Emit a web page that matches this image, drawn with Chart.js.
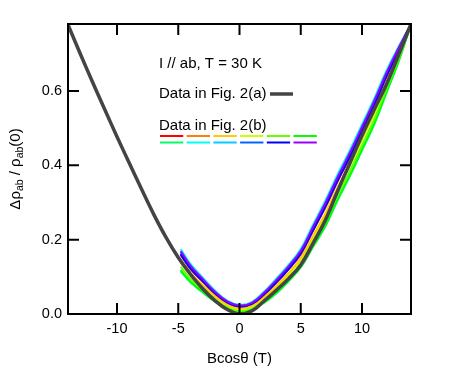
<!DOCTYPE html>
<html>
<head>
<meta charset="utf-8">
<script src="https://cdn.jsdelivr.net/npm/chart.js@4.4.1/dist/chart.umd.min.js"></script>
<style>
  html,body{margin:0;padding:0;background:#fff;}
  canvas{display:block;}
</style>
</head>
<body>
<canvas id="c" width="458" height="374"></canvas>
<script>
// Fig. 2(a) curve (gray)
const grayX = [-14,-13,-12,-11,-10,-9,-8,-7,-6,-5,-4,-3,-2,-1,0,1,2,3,4,5,6,7,8,9,10,11,12,13,14];
const grayY = [.778,.700,.624,.550,.477,.406,.336,.268,.206,.152,.107,.068,.036,.012,0,.008,.035,.064,.095,.132,.19,.252,.330,.405,.48,.55,.618,.698,.78];

// Fig. 2(b) curves (12 colours)
const bX = [-4.8,-4,-3,-2,-1,0,1,2,3,4,5,6,7,8,9,10,11,12,13,14];
const redY    = [.159,.121,.087,.055,.031,.020,.027,.052,.084,.120,.161,.224,.286,.356,.421,.491,.561,.639,.709,.780];
const orangeY = [.162,.124,.089,.056,.032,.021,.028,.053,.086,.122,.164,.227,.289,.359,.424,.494,.564,.642,.711,.780];
const goldY   = [.145,.110,.078,.048,.026,.015,.022,.045,.075,.110,.150,.210,.270,.340,.405,.475,.545,.625,.700,.780];
const ygreenY = [.139,.105,.074,.045,.024,.013,.020,.042,.071,.106,.145,.204,.263,.333,.398,.468,.538,.619,.696,.780];
const limeY   = [.127,.095,.066,.039,.020,.009,.016,.036,.063,.097,.135,.192,.249,.319,.384,.454,.524,.607,.688,.780];
const greenY  = [.118,.087,.060,.034,.017,.006,.013,.031,.057,.090,.127,.183,.238,.308,.373,.443,.513,.598,.682,.780];
const springY = [.115,.085,.058,.033,.016,.005,.012,.030,.055,.088,.125,.180,.235,.305,.370,.440,.510,.595,.680,.780];
const cyanY   = [.175,.135,.098,.063,.036,.025,.032,.060,.095,.132,.175,.240,.305,.375,.440,.510,.580,.655,.720,.780];
const skyY    = [.166,.128,.092,.059,.033,.022,.029,.056,.089,.125,.168,.231,.295,.365,.430,.500,.570,.646,.714,.780];
const dodgerY = [.163,.125,.090,.057,.032,.021,.028,.054,.087,.123,.165,.228,.291,.361,.426,.496,.566,.643,.712,.780];
const blueY   = [.160,.123,.088,.056,.031,.020,.027,.053,.085,.121,.163,.225,.288,.358,.423,.493,.563,.640,.710,.780];
const purpleY = [.169,.130,.094,.060,.034,.023,.030,.057,.091,.128,.170,.234,.298,.368,.433,.503,.573,.649,.716,.780];

// legend order (two rows of six)
const bSeries = [redY,orangeY,goldY,ygreenY,limeY,greenY,springY,cyanY,skyY,dodgerY,blueY,purpleY];
const bColors = ['#ff0000','#ff8000','#ffcc00','#ccff00','#66ff00','#00ff00',
                 '#00ff66','#00ffee','#00ccff','#0066ff','#0000ff','#9900ff'];
// which ones end up on top (first = top-most)
const drawOrder = [11,10,9,8,1,0,2,3,7,4,5,6];

const xTicks = [-10,-5,0,5,10];
const yTicks = [0,0.2,0.4,0.6];

const FONT = '"Liberation Sans", Arial, Helvetica, sans-serif';

function pts(xs, ys){ return xs.map((x,i)=>({x:x, y:ys[i]})); }

// dataset 0 is drawn last in Chart.js, so gray goes first
const datasets = [{
  data: pts(grayX, grayY), borderColor: '#444444', borderWidth: 3.5,
  pointRadius: 0, tension: 0.4, fill: false
}];
drawOrder.forEach(i=>{
  datasets.push({
    data: pts(bX, bSeries[i]), borderColor: bColors[i], borderWidth: 2,
    pointRadius: 0, tension: 0.4, fill: false
  });
});

// frame, inside ticks, y title with subscripts, annotations
const decor = {
  id: 'decor',
  afterDraw(chart){
    const ctx = chart.ctx, a = chart.chartArea;
    const xs = chart.scales.x, ys = chart.scales.y;
    ctx.save();
    ctx.strokeStyle = '#000'; ctx.lineWidth = 2;
    ctx.strokeRect(a.left, a.top, a.right - a.left, a.bottom - a.top);
    const tl = 11;
    ctx.beginPath();
    xTicks.forEach(v=>{
      const p = xs.getPixelForValue(v);
      ctx.moveTo(p, a.bottom); ctx.lineTo(p, a.bottom - tl);
      ctx.moveTo(p, a.top); ctx.lineTo(p, a.top + tl);
    });
    yTicks.forEach(v=>{
      const p = ys.getPixelForValue(v);
      ctx.moveTo(a.left, p); ctx.lineTo(a.left + tl, p);
      ctx.moveTo(a.right, p); ctx.lineTo(a.right - tl, p);
    });
    ctx.stroke();

    // y title
    const big = '15px ' + FONT, small = '10.5px ' + FONT;
    const parts = [['Δρ',big,0],['ab',small,4],[' / ρ',big,0],['ab',small,4],['(0)',big,0]];
    let total = 0;
    parts.forEach(p=>{ ctx.font = p[1]; total += ctx.measureText(p[0]).width; });
    ctx.translate(16, (a.top + a.bottom)/2);
    ctx.rotate(-Math.PI/2);
    ctx.fillStyle = '#000'; ctx.textBaseline = 'middle'; ctx.textAlign = 'left';
    let cx = -total/2;
    parts.forEach(p=>{
      ctx.font = p[1];
      ctx.fillText(p[0], cx, p[2]);
      cx += ctx.measureText(p[0]).width;
    });
    ctx.restore();

    // annotations
    ctx.save();
    ctx.fillStyle = '#000'; ctx.font = '15px ' + FONT;
    ctx.textBaseline = 'middle'; ctx.textAlign = 'left';
    ctx.fillText('I // ab, T = 30 K', 159, 64);
    ctx.fillText('Data in Fig. 2(a)', 159, 93.5);
    ctx.fillText('Data in Fig. 2(b)', 159, 126);
    ctx.strokeStyle = '#444444'; ctx.lineWidth = 3.5;
    ctx.beginPath(); ctx.moveTo(270, 94); ctx.lineTo(293, 94); ctx.stroke();
    ctx.lineWidth = 2;
    bColors.forEach((c,i)=>{
      const row = Math.floor(i/6), col = i % 6;
      const x0 = 160 + col*26.7, y0 = row ? 142.5 : 136;
      ctx.strokeStyle = c;
      ctx.beginPath(); ctx.moveTo(x0, y0); ctx.lineTo(x0 + 23.3, y0); ctx.stroke();
    });
    ctx.restore();
  }
};

new Chart(document.getElementById('c'), {
  type: 'line',
  data: { datasets: datasets },
  options: {
    responsive: false, animation: false,
    layout: { padding: { left: 0, top: 24, right: 47, bottom: 0 } },
    plugins: { legend: { display: false }, tooltip: { enabled: false } },
    scales: {
      x: {
        type: 'linear', min: -14, max: 14,
        grid: { display: false, drawTicks: false },
        border: { display: false },
        afterFit: s => { s.height = 60; },
        afterBuildTicks: s => { s.ticks = xTicks.map(v=>({value:v})); },
        ticks: { color: '#000', padding: 6, maxRotation: 0, font: { size: 14.5, family: FONT },
                 callback: v => String(v) },
        title: { display: true, text: 'Bcosθ (T)', color: '#000',
                 font: { size: 15, family: FONT }, padding: { top: 0, bottom: 6 } }
      },
      y: {
        type: 'linear', min: 0, max: 0.78,
        grid: { display: false, drawTicks: false },
        border: { display: false },
        afterFit: s => { s.width = 68; },
        afterBuildTicks: s => { s.ticks = yTicks.map(v=>({value:v})); },
        ticks: { color: '#000', padding: 6, font: { size: 14.5, family: FONT },
                 callback: v => Number(v).toFixed(1) }
      }
    }
  },
  plugins: [decor]
});
</script>
</body>
</html>
